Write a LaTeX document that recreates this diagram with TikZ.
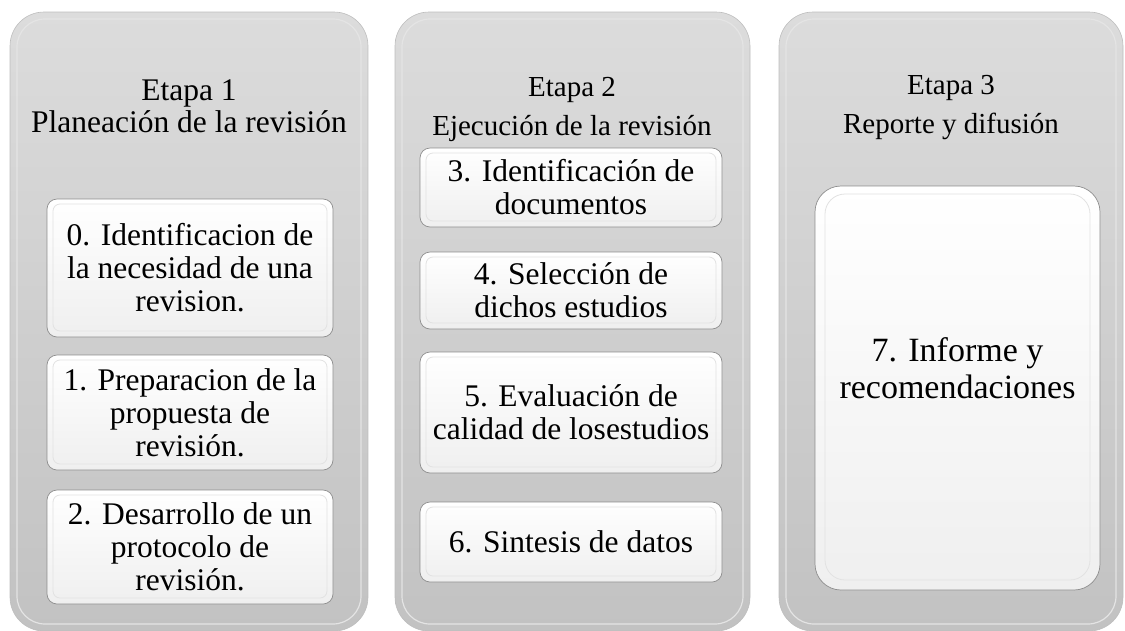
\documentclass[tikz,border=0pt]{standalone}
\usepackage{fontspec}
\setmainfont{Liberation Serif}
\usepackage{tikz}
\usepackage{xcolor}
\usetikzlibrary{positioning,shapes}
\definecolor{stagetop}{HTML}{DCDCDC}
\definecolor{stagebot}{HTML}{C2C2C2}
\definecolor{stageedge}{HTML}{BDBDBD}
\definecolor{stagerim}{HTML}{E4E4E4}
\definecolor{boxbot}{HTML}{EFEFEF}
\definecolor{boxedge}{HTML}{8E8E8E}
\definecolor{boxrim}{HTML}{E2E2E2}
\tikzset{%
	stage/.style    = {rectangle, rounded corners=34pt, top color=stagetop, bottom color=stagebot, draw=stageedge, line width=0.6pt,
		path picture={\draw[stagerim, line width=1.2pt, rounded corners=28pt] ([shift={(7pt,-7pt)}]path picture bounding box.north west) rectangle ([shift={(-7pt,7pt)}]path picture bounding box.south east);}}, % Column
	head/.style     = {align=center, inner sep=1pt, font=\fontsize{29}{39}\selectfont}, % Column title
	headone/.style  = {head, font=\fontsize{31.5}{32}\selectfont}, % First title
	task/.style     = {rectangle, rounded corners=10pt, top color=white, bottom color=boxbot, draw=boxedge, line width=0.7pt, align=center, inner sep=2pt, font=\fontsize{31.5}{33}\selectfont,
		path picture={\draw[boxrim, line width=0.8pt, rounded corners=7pt] ([shift={(6pt,-5pt)}]path picture bounding box.north west) rectangle ([shift={(-6pt,6pt)}]path picture bounding box.south east);}}, % Inner box
	bigtask/.style  = {task, rounded corners=26pt,
		path picture={\draw[boxrim, line width=0.8pt, rounded corners=20pt] ([shift={(10pt,-8pt)}]path picture bounding box.north west) rectangle ([shift={(-10pt,10pt)}]path picture bounding box.south east);}}, % Tall box
	tasktext/.style = {align=center, inner sep=1pt, font=\fontsize{34}{37}\selectfont}, % Tall box text
}

\begin{document}
\begin{tikzpicture}[x=1pt, y=-1pt]
	\useasboundingbox (0,0) rectangle (1125,630);
	
	\node[stage, minimum width=358pt, minimum height=619pt] (col1) at (189,321.5) {};
	\node[stage, minimum width=355pt, minimum height=619pt] (col2) at (572.5,321.5) {};
	\node[stage, minimum width=344pt, minimum height=619pt] (col3) at (951,321.5) {};
	
	\node[headone] (h1) at (189,106) {Etapa 1\\Planeación de la revisión};
	\node[head] (h2) at (572,109) {Etapa 2\\Ejecución de la revisión};
	\node[head] (h3) at (951,107.5) {Etapa 3\\Reporte y difusión};
	
	\node[task, minimum width=286pt, minimum height=138pt] (b0) at (190,268) {0. Identificacion de\\la necesidad de una\\revision.};
	\node[task, minimum width=286pt, minimum height=115pt] (b1) at (190,412.5) {1. Preparacion de la\\propuesta de\\revisión.};
	\node[task, minimum width=286pt, minimum height=114pt] (b2) at (190,547) {2. Desarrollo de un\\protocolo de\\revisión.};
	
	\node[task, minimum width=302pt, minimum height=79pt] (b3) at (571,187.5) {3. Identificación de\\documentos};
	\node[task, minimum width=302pt, minimum height=77pt] (b4) at (571,290.5) {4. Selección de\\dichos estudios};
	\node[task, minimum width=302pt, minimum height=121pt] (b5) at (571,412.5) {5. Evaluación de\\calidad de losestudios};
	\node[task, minimum width=302pt, minimum height=80pt] (b6) at (571,542) {6. Sintesis de datos};
	
	\node[bigtask, minimum width=285pt, minimum height=404pt] (b7) at (957.5,388) {};
	\node[tasktext] (t7) at ([yshift=20pt]b7.center) {7. Informe y\\recomendaciones};
\end{tikzpicture}
\end{document}
